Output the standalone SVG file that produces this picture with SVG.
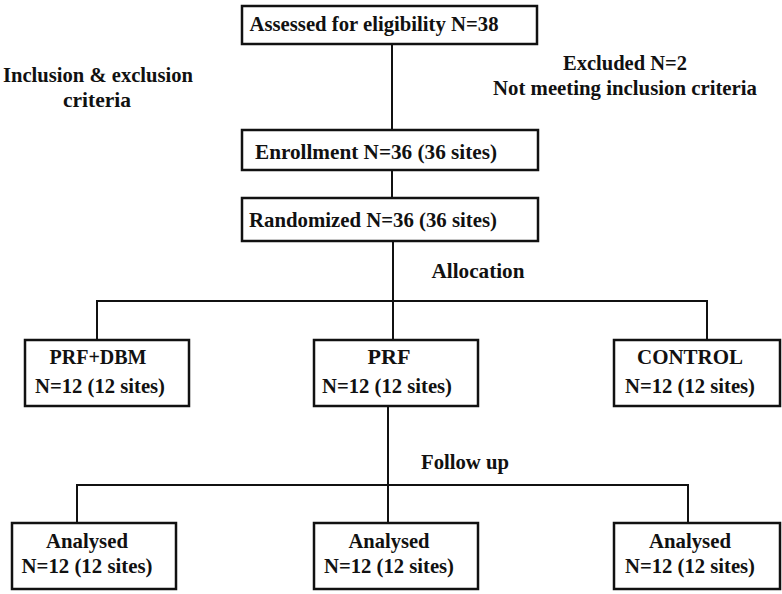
<svg xmlns="http://www.w3.org/2000/svg" width="782" height="594" viewBox="0 0 782 594" font-family="'Liberation Serif', 'DejaVu Serif', serif">
<style>
.box{fill:#fff;stroke:#111;stroke-width:2.5}
.ln{fill:none;stroke:#111;stroke-width:2}
text{font-family:'Liberation Serif','DejaVu Serif',serif;font-weight:bold;font-size:21px;fill:#111;text-anchor:middle}
</style>
<rect width="782" height="594" fill="#fff"/>
<g id="connectors">
<line class="ln" x1="392" y1="44" x2="392" y2="130"/>
<line class="ln" x1="392" y1="170" x2="392" y2="198"/>
<line class="ln" x1="393" y1="241" x2="393" y2="301"/>
<polyline class="ln" points="97,340 97,301 707,301 707,340"/>
<line class="ln" x1="393" y1="301" x2="393" y2="340"/>
<line class="ln" x1="388" y1="406" x2="388" y2="523"/>
<polyline class="ln" points="77,523 77,485 688,485 688,523"/>
</g>
<g id="labels">
<text x="98" y="82" textLength="190" lengthAdjust="spacingAndGlyphs">Inclusion &amp; exclusion</text>
<text x="97" y="107" textLength="68" lengthAdjust="spacingAndGlyphs">criteria</text>
<text x="625" y="70" textLength="124" lengthAdjust="spacingAndGlyphs">Excluded N=2</text>
<text x="625" y="95" textLength="264" lengthAdjust="spacingAndGlyphs">Not meeting inclusion criteria</text>
<text x="478" y="278" textLength="93" lengthAdjust="spacingAndGlyphs">Allocation</text>
<text x="465" y="469" textLength="88" lengthAdjust="spacingAndGlyphs">Follow up</text>
</g>
<g id="assessed">
<rect class="box" x="242" y="6" width="295" height="38"/>
<text x="374" y="31" textLength="249" lengthAdjust="spacingAndGlyphs">Assessed for eligibility N=38</text>
</g>
<g id="enrollment">
<rect class="box" x="242" y="130" width="296" height="40"/>
<text x="376" y="159" textLength="242" lengthAdjust="spacingAndGlyphs">Enrollment N=36 (36 sites)</text>
</g>
<g id="randomized">
<rect class="box" x="242" y="198" width="296" height="43"/>
<text x="373" y="227" textLength="248" lengthAdjust="spacingAndGlyphs">Randomized N=36 (36 sites)</text>
</g>
<g id="prfdbm">
<rect class="box" x="25" y="340" width="164" height="66"/>
<text x="98" y="364" textLength="97" lengthAdjust="spacingAndGlyphs">PRF+DBM</text>
<text x="100" y="393" textLength="130" lengthAdjust="spacingAndGlyphs">N=12 (12 sites)</text>
</g>
<g id="prf">
<rect class="box" x="314" y="340" width="164" height="66"/>
<text x="389" y="364" textLength="43" lengthAdjust="spacingAndGlyphs">PRF</text>
<text x="387" y="393" textLength="130" lengthAdjust="spacingAndGlyphs">N=12 (12 sites)</text>
</g>
<g id="control">
<rect class="box" x="614" y="340" width="166" height="66"/>
<text x="690" y="364" textLength="106" lengthAdjust="spacingAndGlyphs">CONTROL</text>
<text x="690" y="393" textLength="130" lengthAdjust="spacingAndGlyphs">N=12 (12 sites)</text>
</g>
<g id="analysed1">
<rect class="box" x="12" y="523" width="164" height="66"/>
<text x="87" y="548" textLength="82" lengthAdjust="spacingAndGlyphs">Analysed</text>
<text x="87" y="573" textLength="131" lengthAdjust="spacingAndGlyphs">N=12 (12 sites)</text>
</g>
<g id="analysed2">
<rect class="box" x="314" y="523" width="164" height="66"/>
<text x="389" y="548" textLength="81" lengthAdjust="spacingAndGlyphs">Analysed</text>
<text x="389" y="573" textLength="130" lengthAdjust="spacingAndGlyphs">N=12 (12 sites)</text>
</g>
<g id="analysed3">
<rect class="box" x="614" y="523" width="166" height="66"/>
<text x="690" y="548" textLength="82" lengthAdjust="spacingAndGlyphs">Analysed</text>
<text x="690" y="573" textLength="130" lengthAdjust="spacingAndGlyphs">N=12 (12 sites)</text>
</g>
</svg>
